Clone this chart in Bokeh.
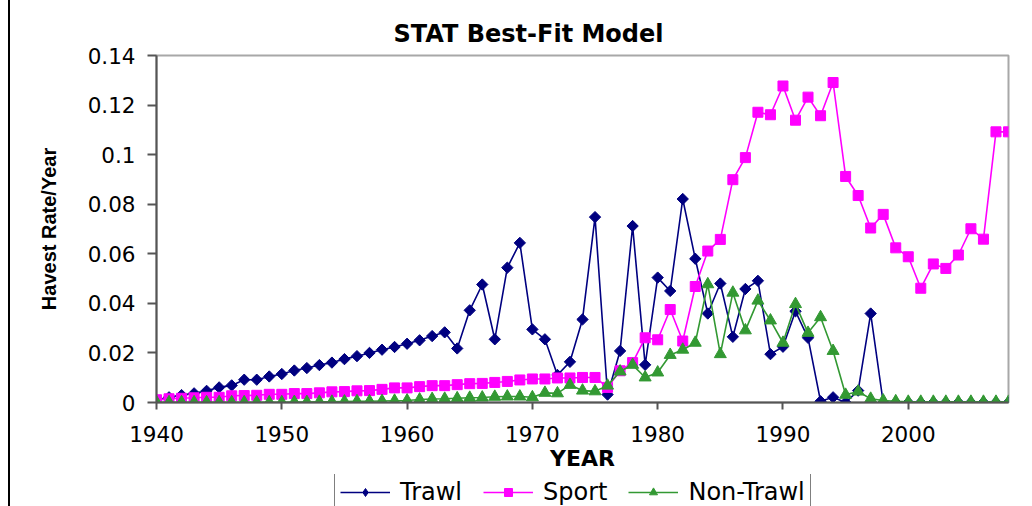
import math
from bokeh.plotting import figure
from bokeh.layouts import column
from bokeh.models import Range1d, FixedTicker, Legend, LegendItem
from bokeh.embed import file_html
from bokeh.resources import INLINE

years = list(range(1940, 2009))

trawl = [
    0.0010, 0.0021, 0.0030, 0.0037, 0.0047, 0.0061, 0.0069, 0.0092, 0.0092, 0.0105,  # 1940-49
    0.0115, 0.0129, 0.0139, 0.0151, 0.0161, 0.0175, 0.0187, 0.0200, 0.0213, 0.0224,  # 1950-59
    0.0237, 0.0251, 0.0268, 0.0283, 0.0218, 0.0372, 0.0476, 0.0255, 0.0544, 0.0644,  # 1960-69
    0.0295, 0.0255, 0.0111, 0.0164, 0.0335, 0.0748, 0.0032, 0.0208, 0.0712, 0.0152,  # 1970-79
    0.0504, 0.0450, 0.0821, 0.0580, 0.0359, 0.0480, 0.0265, 0.0458, 0.0491, 0.0195,  # 1980-89
    0.0225, 0.0368, 0.0261, 0.0005, 0.0021, 0.0000, 0.0048, 0.0359, 0.0000, 0.0000,  # 1990-99
    0.0000, 0.0000, 0.0000, 0.0000, 0.0000, 0.0000, 0.0000, 0.0000, 0.0000,          # 2000-08
]

sport = [
    0.0011, 0.0015, 0.0017, 0.0019, 0.0021, 0.0021, 0.0027, 0.0028, 0.0029, 0.0033,
    0.0033, 0.0036, 0.0036, 0.0039, 0.0043, 0.0044, 0.0047, 0.0048, 0.0053, 0.0059,
    0.0059, 0.0064, 0.0068, 0.0068, 0.0072, 0.0076, 0.0077, 0.0081, 0.0085, 0.0091,
    0.0095, 0.0095, 0.0099, 0.0099, 0.0101, 0.0101, 0.0061, 0.0128, 0.0161, 0.0261,
    0.0253, 0.0375, 0.0248, 0.0468, 0.0611, 0.0658, 0.0899, 0.0988, 0.1171, 0.1161,
    0.1277, 0.1139, 0.1232, 0.1157, 0.1291, 0.0912, 0.0835, 0.0704, 0.0759, 0.0624,
    0.0588, 0.0461, 0.0559, 0.0541, 0.0595, 0.0701, 0.0659, 0.1092, 0.1092,
]

non_trawl = [
    0.0001, 0.0001, 0.0001, 0.0001, 0.0001, 0.0001, 0.0001, 0.0001, 0.0001, 0.0001,
    0.0001, 0.0002, 0.0002, 0.0003, 0.0003, 0.0004, 0.0005, 0.0005, 0.0006, 0.0007,
    0.0008, 0.0012, 0.0014, 0.0015, 0.0017, 0.0019, 0.0020, 0.0023, 0.0024, 0.0024,
    0.0021, 0.0039, 0.0037, 0.0071, 0.0048, 0.0045, 0.0068, 0.0125, 0.0152, 0.0101,
    0.0121, 0.0192, 0.0213, 0.0241, 0.0477, 0.0195, 0.0443, 0.0291, 0.0411, 0.0331,
    0.0241, 0.0397, 0.0281, 0.0344, 0.0208, 0.0031, 0.0044, 0.0015, 0.0008, 0.0005,
    0.0003, 0.0003, 0.0003, 0.0003, 0.0003, 0.0003, 0.0003, 0.0003, 0.0003,
]

series_names = ["Trawl", "Sport", "Non-Trawl"]
series_colors = ["#000080", "#FF00FF", "#339933"]
series_markers = ["diamond", "square", "triangle"]

x_ticks = [1940, 1950, 1960, 1970, 1980, 1990, 2000]
x_tick_labels = ["1940", "1950", "1960", "1970", "1980", "1990", "2000"]
y_ticks = [0, 0.02, 0.04, 0.06, 0.08, 0.1, 0.12, 0.14]
y_tick_labels = ["0", "0.02", "0.04", "0.06", "0.08", "0.1", "0.12", "0.14"]

title_text = "STAT Best-Fit Model"
x_label = "YEAR"
y_label = "Havest Rate/Year"

p = figure(width=1022, height=474,
           x_range=Range1d(1940, 2008), y_range=Range1d(0, 0.14),
           output_backend="svg", toolbar_location=None,
           min_border_left=146, min_border_right=24,
           min_border_top=55, min_border_bottom=72)

p.title.text = title_text
p.title.text_font = "DejaVu Sans"
p.title.text_font_size = "24px"
p.title.text_font_style = "bold"
p.title.text_color = "black"
p.title.align = "left"
p.title.offset = 237
p.title.standoff = 15

p.xgrid.visible = False
p.ygrid.visible = False
p.outline_line_color = "#a8a8a8"
p.outline_line_width = 2
p.background_fill_color = "white"
p.border_fill_color = "white"

axis_color = "#555555"
for ax in (p.xaxis[0], p.yaxis[0]):
    ax.axis_line_color = axis_color
    ax.axis_line_width = 2
    ax.major_tick_line_color = axis_color
    ax.major_tick_line_width = 2
    ax.minor_tick_line_color = None
    ax.major_tick_in = 0
    ax.major_label_text_font = "DejaVu Sans"
    ax.major_label_text_font_size = "21.5px"
    ax.major_label_text_color = "black"

p.xaxis.ticker = FixedTicker(ticks=x_ticks)
p.xaxis.major_label_overrides = dict(zip(x_ticks, x_tick_labels))
p.xaxis.major_tick_out = 7
p.xaxis.major_label_standoff = 16
p.xaxis.axis_label = x_label
p.xaxis.axis_label_text_font = "DejaVu Sans"
p.xaxis.axis_label_text_font_size = "22px"
p.xaxis.axis_label_text_font_style = "bold"
p.xaxis.axis_label_text_color = "black"
p.xaxis.axis_label_standoff = 1

p.yaxis.ticker = FixedTicker(ticks=y_ticks)
p.yaxis.major_label_overrides = dict(zip(y_ticks, y_tick_labels))
p.yaxis.major_tick_out = 9
p.yaxis.major_label_standoff = 12
p.yaxis.axis_label = y_label
p.yaxis.axis_label_text_font = "Liberation Sans"
p.yaxis.axis_label_text_font_size = "20px"
p.yaxis.axis_label_text_font_style = "bold"
p.yaxis.axis_label_text_color = "black"
p.yaxis.axis_label_standoff = 25

# legend strip: a second, axis-less figure directly below the chart
# (its ranges lie far from the data, so only the legend keys show)
pl = figure(width=1022, height=32, x_range=Range1d(0, 1), y_range=Range1d(5, 6),
            output_backend="svg", toolbar_location=None,
            x_axis_location=None, y_axis_location=None, min_border=0)
pl.xgrid.visible = False
pl.ygrid.visible = False
pl.outline_line_color = None
pl.background_fill_color = "white"
pl.border_fill_color = "white"

all_series = [trawl, sport, non_trawl]
items = []
for name, color, marker, vals in zip(series_names, series_colors, series_markers, all_series):
    # chart marks
    p.line(years, vals, line_color=color, line_width=1.6)
    if marker == "diamond":
        p.scatter(years, vals, marker="square", angle=math.pi / 4, size=8,
                  fill_color=color, line_color=color)
    elif marker == "square":
        p.scatter(years, vals, marker="square", size=10,
                  fill_color=color, line_color=color)
    else:
        p.scatter(years, vals, marker="triangle", size=12,
                  fill_color=color, line_color=color)
    # legend keys (drawn in the legend strip)
    kl = pl.line(years, vals, line_color=color, line_width=1.6)
    km = pl.scatter(years, vals, marker=marker, size=10,
                    fill_color=color, line_color=color)
    items.append(LegendItem(label=name, renderers=[kl, km]))

legend = Legend(items=items, orientation="horizontal", location=(178, -6),
                border_line_color="black", border_line_width=1,
                background_fill_color="white", background_fill_alpha=1,
                padding=5, spacing=21, label_standoff=10, margin=0,
                glyph_width=50, glyph_height=20,
                label_text_font="DejaVu Sans", label_text_font_size="24px",
                label_text_color="black")
pl.add_layout(legend, "center")

layout = column(p, pl, spacing=0,
                styles={"border-left": "2px solid black", "margin-left": "8px"})

open("out.html", "w").write(file_html(layout, INLINE))
